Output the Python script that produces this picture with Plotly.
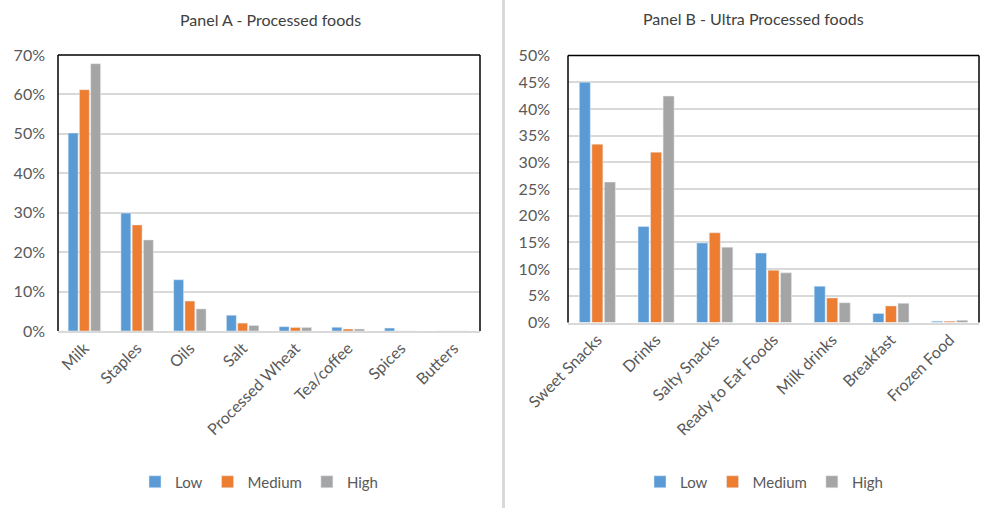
import plotly.graph_objects as go

# Panel A - processed foods (share of purchases, %)
cats_a = ["Milk", "Staples", "Oils", "Salt", "Processed Wheat", "Tea/coffee", "Spices", "Butters"]
low_a = [50.2, 29.9, 13.0, 4.0, 1.1, 0.95, 0.75, 0.0]
med_a = [61.2, 26.9, 7.6, 2.0, 0.9, 0.5, 0.0, 0.0]
high_a = [67.8, 23.1, 5.6, 1.4, 0.9, 0.5, 0.0, 0.0]

# Panel B - ultra processed foods (share of purchases, %)
cats_b = ["Sweet Snacks", "Drinks", "Salty Snacks", "Ready to Eat Foods", "Milk drinks", "Breakfast", "Frozen Food"]
low_b = [45.0, 18.0, 14.9, 13.0, 6.8, 1.7, 0.25]
med_b = [33.4, 31.9, 16.8, 9.8, 4.6, 3.1, 0.25]
high_b = [26.3, 42.4, 14.1, 9.3, 3.7, 3.6, 0.4]

series = ["Low", "Medium", "High"]
colors = ["#5B9BD5", "#ED7D31", "#A5A5A5"]

FONT = "Lato"
TXT = "#595959"
GRID = "#D9D9D9"

fig = go.Figure()

for name, col, vals in zip(series, colors, [low_a, med_a, high_a]):
    fig.add_trace(go.Bar(x=cats_a, y=vals, name=name, marker_color=col,
                         xaxis="x", yaxis="y", legend="legend"))
for name, col, vals in zip(series, colors, [low_b, med_b, high_b]):
    fig.add_trace(go.Bar(x=cats_b, y=vals, name=name, marker_color=col,
                         xaxis="x2", yaxis="y2", legend="legend2"))

W, H = 981, 508
def px_x(v):
    return v / W
def px_y(v):
    return (H - v) / H

xa = dict(tickangle=-45, showline=True, linecolor=GRID, linewidth=1.5,
          showgrid=False, tickfont=dict(family=FONT, size=16, color=TXT),
          ticks="", fixedrange=True, automargin=False)
ya = dict(showgrid=True, gridcolor=GRID, gridwidth=1.5, zeroline=False,
          showline=False, ticksuffix="%", ticks="", automargin=False,
          tickfont=dict(family=FONT, size=16, color=TXT))

legend_style = dict(orientation="h", xanchor="left", yanchor="middle",
                    font=dict(family=FONT, size=15, color=TXT),
                    itemwidth=30, bgcolor="rgba(0,0,0,0)")

fig.update_layout(
    width=W, height=H,
    margin=dict(l=0, r=0, t=0, b=0, autoexpand=False),
    paper_bgcolor="white", plot_bgcolor="white",
    barmode="group", bargap=0.36, bargroupgap=0.12,
    font=dict(family=FONT, color=TXT),
    xaxis=dict(xa, domain=[px_x(58), px_x(480)], anchor="y"),
    yaxis=dict(ya, domain=[px_y(331), px_y(55)], anchor="x",
               range=[0, 70], dtick=10, ticklabelstandoff=12),
    xaxis2=dict(xa, domain=[px_x(568), px_x(979)], anchor="y2"),
    yaxis2=dict(ya, domain=[px_y(322.5), px_y(55.5)], anchor="x2",
                range=[0, 50], dtick=5, ticklabelstandoff=17),
    legend=dict(legend_style, x=px_x(135), y=px_y(482)),
    legend2=dict(legend_style, x=px_x(640), y=px_y(482)),
    annotations=[
        dict(text="Panel A - Processed foods", x=px_x(270), y=px_y(19),
             xref="paper", yref="paper", showarrow=False,
             xanchor="center", yanchor="middle",
             font=dict(family=FONT, size=16, color="#404040")),
        dict(text="Panel B - Ultra Processed foods", x=px_x(753), y=px_y(18),
             xref="paper", yref="paper", showarrow=False,
             xanchor="center", yanchor="middle",
             font=dict(family=FONT, size=16, color="#404040")),
    ],
)

# black frame on the left, top and right of each plot area
frame = []
for xr, yr in [("x domain", "y domain"), ("x2 domain", "y2 domain")]:
    for x0, y0, x1, y1 in [(0, 0, 0, 1), (0, 1, 1, 1), (1, 0, 1, 1)]:
        frame.append(dict(type="line", xref=xr, yref=yr, x0=x0, y0=y0, x1=x1, y1=y1,
                          line=dict(color="black", width=1.5), layer="above"))
# vertical divider between the two panels
frame.append(dict(type="line", xref="paper", yref="paper", x0=px_x(503.5), x1=px_x(503.5),
                  y0=0, y1=1, line=dict(color=GRID, width=3), layer="above"))
fig.update_layout(shapes=frame)

fig.write_html("out.html")
